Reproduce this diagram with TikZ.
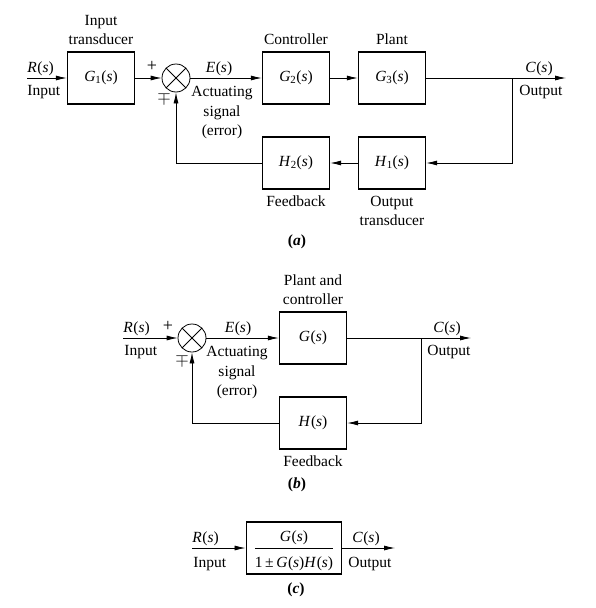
\documentclass[tikz,border=0pt]{standalone}
\usepackage{fontspec}
\setmainfont{Liberation Serif}
\usetikzlibrary{arrows.meta,positioning}
\newcommand{\sig}[2][]{\textit{#2}\textsubscript{#1}(\textit{s})}
\newcommand{\subcap}[1]{\textbf{(\textit{#1})}}

\begin{document}
\begin{tikzpicture}[x=1pt,y=1pt,>={Latex[length=11pt,width=5pt]},line width=0.8pt,
                    every node/.style={font=\fontsize{15.5}{19.5}\selectfont},
                    block/.style={draw,line width=1.4pt,minimum width=67pt,
                                  minimum height=52pt,inner sep=0pt},
                    sum/.style={draw,circle,minimum size=28pt,inner sep=0pt,
                                path picture={\draw
                                  (path picture bounding box.north west) -- (path picture bounding box.south east)
                                  (path picture bounding box.north east) -- (path picture bounding box.south west);}},
                    lbl/.style={inner sep=0pt,align=center},
                    sign/.style={inner sep=0pt,font=\fontsize{18}{18}\selectfont}]

  \useasboundingbox (0,0) rectangle (596,-608);

  % (a)
  \node[sum]   (S1) at (176,-78) {};
  \node[block] (G1) [node distance=75pt,left of=S1]  {\sig[1]{G}};
  \node[block] (G2) [node distance=120pt,right of=S1] {\sig[2]{G}};
  \node[block] (G3) [node distance=96pt,right of=G2]  {\sig[3]{G}};
  \node[block] (H2) [node distance=85pt,below of=G2]  {\sig[2]{H}};
  \node[block] (H1) [node distance=85pt,below of=G3]  {\sig[1]{H}};
  \coordinate (R1) at (27,-78);
  \coordinate (B1) at (512,-78);
  \coordinate (C1) at (566,-78);

  \path[->] (R1) edge (G1)
            (G1) edge (S1)
            (S1) edge (G2)
            (G2) edge (G3)
            (H1) edge (H2);
  \draw[->] (G3) -- (C1);
  \draw[->] (B1) |- (H1);
  \draw[->] (H2) -| (S1);

  \node[lbl,above=6pt of G1]  (tG1) {Input\\transducer};
  \node[lbl,above=6pt of G2]  (tG2) {Controller};
  \node[lbl,above=6pt of G3]  (tG3) {Plant};
  \node[lbl,below=6pt of H2]  (tH2) {Feedback};
  \node[lbl,below=6pt of H1]  (tH1) {Output\\transducer};
  \node[lbl,anchor=base west] (R1s) at (27,-72) {\sig{R}};
  \node[lbl,anchor=base west] (R1t) at (27,-95) {Input};
  \node[sign] (p1) at (152,-66) {+};
  \node[sign] (m1) at (164,-98) {$\mp$};
  \node[lbl,anchor=base]  (E1s) at (219,-72) {\sig{E}};
  \node[lbl,anchor=north] (E1t) at (222,-86) {Actuating\\signal\\(error)};
  \node[lbl,anchor=base]  (C1s) at (539,-72) {\sig{C}};
  \node[lbl,anchor=base]  (C1t) at (541,-95) {Output};
  \node[lbl] (capa) at (297,-242) {\subcap{a}};

  % (b)
  \node[sum]   (S2) at (192,-338) {};
  \node[block] (G)  [node distance=121pt,right of=S2] {\sig{G}};
  \node[block] (H)  [node distance=85pt,below of=G]   {\sig{H}};
  \coordinate (R2) at (123,-338);
  \coordinate (B2) at (421,-338);
  \coordinate (C2) at (471,-338);

  \path[->] (R2) edge (S2)
            (S2) edge (G);
  \draw[->] (G) -- (C2);
  \draw[->] (B2) |- (H);
  \draw[->] (H) -| (S2);

  \node[lbl,above=6pt of G] (tG) {Plant and\\controller};
  \node[lbl,below=6pt of H] (tH) {Feedback};
  \node[lbl,anchor=base west] (R2s) at (123,-332) {\sig{R}};
  \node[lbl,anchor=base west] (R2t) at (124,-355) {Input};
  \node[sign] (p2) at (168,-326) {+};
  \node[sign] (m2) at (182,-360) {$\mp$};
  \node[lbl,anchor=base]  (E2s) at (238,-332) {\sig{E}};
  \node[lbl,anchor=north] (E2t) at (237,-346) {Actuating\\signal\\(error)};
  \node[lbl,anchor=base]  (C2s) at (447,-332) {\sig{C}};
  \node[lbl,anchor=base]  (C2t) at (449,-355) {Output};
  \node[lbl] (capb) at (297,-485) {\subcap{b}};

  % (c)
  \node[block,minimum width=95.5pt] (T) at (294,-548)
       {\begin{tabular}{@{}c@{}}\rule{0pt}{19pt}\sig{G}\\\hline
        \rule{0pt}{19pt}1\,±\,\sig{G}\sig{H}\end{tabular}};
  \coordinate (R3) at (192,-548);
  \coordinate (C3) at (395,-548);

  \path[->] (R3) edge (T)
            (T)  edge (C3);

  \node[lbl,anchor=base west] (R3s) at (192,-542) {\sig{R}};
  \node[lbl,anchor=base west] (R3t) at (193,-567) {Input};
  \node[lbl,anchor=base]  (C3s) at (366,-542) {\sig{C}};
  \node[lbl,anchor=base]  (C3t) at (370,-567) {Output};
  \node[lbl] (capc) at (296,-590) {\subcap{c}};
\end{tikzpicture}
\end{document}
